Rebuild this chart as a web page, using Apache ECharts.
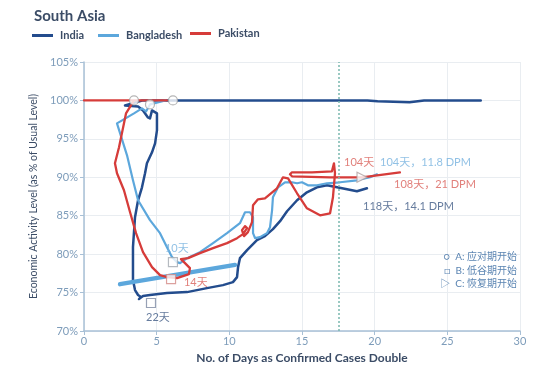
<!DOCTYPE html>
<html><head><meta charset="utf-8">
<script src="https://cdn.jsdelivr.net/npm/echarts@6/dist/echarts.min.js"></script>
<style>html,body{margin:0;padding:0;background:#fff}#c{width:550px;height:385px}</style>
</head><body><div id="c"></div>
<script>
// ---- data (x: days for confirmed cases to double, y: economic activity % of usual) ----
const xTicks = [0, 5, 10, 15, 20, 25, 30];
const yTicks = [70, 75, 80, 85, 90, 95, 100, 105];
const seriesNames = ['India', 'Bangladesh', 'Pakistan'];

const india = [
  [27.3,100],[23.4,100],[22.4,99.75],[20.2,99.9],[19.5,100],[6.12,100],[4.0,100],
  [2.82,99.35],[3.72,99.22],[4.06,98.7],[4.40,97.79],[4.54,97.66],[4.68,98.7],[4.75,98.96],
  [5.02,98.31],[5.02,96.1],[4.89,94.42],[4.68,93.25],[4.33,91.82],[4.20,90.52],[3.99,88.7],
  [3.72,87.01],[3.51,84.81],[3.37,80.91],[3.37,76.62],[3.51,75.32],[3.72,74.68],[3.92,74.42],
  [3.78,74.16],[4.06,74.55],[4.54,74.68],[5.71,74.94],[7.09,75.06],[8.46,75.58],[9.56,75.97],
  [10.25,76.36],[10.53,77.01],[10.60,78.31],[10.73,79.48],[11.22,80.52],[11.90,81.82],
  [12.45,82.34],[13.00,83.25],[13.49,84.29],[13.97,85.58],[14.66,87.01],[15.34,88.05],
  [16.03,88.7],[16.72,88.96],[17.41,88.7],[18.10,88.44],[18.78,88.18],[19.47,88.57]
];
const bangladesh = [
  [5.6,100],[4.54,99.48],[4.27,98.57],[3.99,98.96],[3.44,98.31],[2.27,97.01],[2.96,92.86],
  [3.37,89.61],[3.72,87.01],[4.54,84.42],[5.23,82.73],[5.71,80.91],[6.06,79.61],[6.40,78.96],
  [6.61,78.83],[7.09,79.48],[7.98,80.26],[8.88,81.43],[9.84,82.73],[10.73,84.03],[11.08,85.45],
  [11.42,85.45],[11.63,84.81],[11.63,82.73],[11.77,82.08],[12.11,82.21],[12.59,82.73],
  [12.80,83.51],[12.94,85.71],[13.00,87.4],[13.35,88.7],[13.83,89.35],[14.31,89.35],
  [14.66,89.22],[15.0,89.35],[15.41,88.96],[16.03,88.96],[16.72,89.22],[17.62,89.35],
  [18.78,89.61],[19.68,90.0],[20.16,90.39]
];
const bangladeshSegment = [[2.48,76.1],[10.39,78.6]];
const pakistan = [
  [0,100],[5.7,100],[3.44,100],[2.89,98.31],[2.41,93.9],[2.13,91.82],[2.27,90.52],[2.75,88.31],
  [3.17,85.45],[3.58,82.73],[4.06,80.26],[4.68,78.31],[5.23,77.27],[5.71,77.01],[6.40,76.88],
  [7.22,77.4],[7.29,78.18],[6.88,78.96],[6.67,79.35],[7.16,79.48],[7.98,80.13],[8.88,80.78],
  [9.84,81.43],[10.53,82.08],[10.94,82.6],[11.22,83.38],[11.08,83.64],[10.87,83.12],
  [11.01,82.34],[11.28,82.86],[11.56,84.16],[11.63,86.36],[11.97,87.14],[12.45,87.27],
  [13.28,88.57],[13.69,90.0],[14.04,89.87],[14.66,87.92],[15.34,85.97],[16.24,85.06],
  [16.93,85.32],[17.13,87.40],[17.27,90.52],[17.20,91.82],[17.06,90.78],[15.69,90.65],
  [14.31,90.65],[14.17,90.39],[14.31,90.13],[16.93,90.0],[19.13,90.0],[21.74,90.65]
];
// phase markers: India, Bangladesh, Pakistan
const pointA = [[6.12,100],[4.54,99.48],[3.44,100]];
const pointB = [[4.61,73.64],[6.12,78.96],[5.99,76.75]];
const pointC = [[19.13,90.0]];
const refLineX = 17.5;
// annotations: [x, y, text, series index]
const annotations = [
  [5.57,80.78,'10天',1],
  [6.88,76.36,'14天',2],
  [4.27,71.7,'22天',0],
  [17.89,91.95,'104天',2],
  [20.37,91.95,'104天，11.8 DPM',1],
  [21.33,89.09,'108天，21 DPM',2],
  [19.2,86.23,'118天，14.1 DPM',0]
];
const phaseLegend = ['○  A: 应对期开始', '□  B: 低谷期开始', '▷  C: 恢复期开始'];

// ---- styles ----
const FONT = "Lato, 'Noto Sans CJK SC', sans-serif";
const colors = ['#234c8d', '#5ca7dc', '#d63c3a'];
const textColors = ['#3f5a85', '#76b2de', '#d9605a'];
const squareBorders = ['#7d8aa3', '#a3a9b0', '#d38a86'];
const AXIS = '#a8c0d6';
const LABEL = '#7d9cba';
const DARK = '#3b4c66';

const chart = echarts.init(document.getElementById('c'));

const lineSeries = (name, data, i, w) => ({
  name, type: 'line', data, showSymbol: false, symbol: 'none', smooth: false,
  lineStyle: { color: colors[i], width: w, cap: 'round', join: 'round' },
  itemStyle: { color: colors[i] }, z: 2 + i, animation: false
});

const annoSeries = annotations.map(a => ({
  type: 'scatter', data: [[a[0], a[1]]], symbolSize: 0, silent: true, z: 10, animation: false,
  label: { show: true, position: 'right', distance: 0, formatter: a[2],
    color: textColors[a[3]], fontSize: 11, fontFamily: FONT }
}));

const option = {
  animation: false,
  backgroundColor: '#fff',
  title: { text: 'South Asia', left: 29, top: 4,
    textStyle: { fontFamily: FONT, fontSize: 15, fontWeight: 'bold', color: DARK } },
  legend: [0, 1, 2].map(i => ({
    data: [seriesNames[i]], left: [32, 98, 190][i], top: [30, 30, 28][i], padding: 0,
    icon: 'rect', itemWidth: 21, itemHeight: 3, itemGap: 0,
    textStyle: { fontFamily: FONT, fontSize: 11, fontWeight: 'bold', color: DARK, padding: [0,0,0,2] }
  })),
  grid: { left: 84, right: 30, top: 62, bottom: 54 },
  xAxis: {
    type: 'value', min: xTicks[0], max: xTicks[xTicks.length - 1], interval: 5,
    name: 'No. of Days as Confirmed Cases Double', nameLocation: 'middle', nameGap: 20,
    nameTextStyle: { fontFamily: FONT, fontSize: 12, fontWeight: 'bold', color: DARK },
    axisLine: { show: true, onZero: false, lineStyle: { color: AXIS, width: 1.5 } },
    axisTick: { show: true, length: 4, lineStyle: { color: AXIS } },
    axisLabel: { color: LABEL, fontFamily: FONT, fontSize: 11, margin: 5 },
    splitLine: { show: true, lineStyle: { color: '#e9edf1' } }
  },
  yAxis: {
    type: 'value', min: yTicks[0], max: yTicks[yTicks.length - 1], interval: 5,
    name: 'Economic Activity Level (as % of Usual Level)', nameLocation: 'middle', nameGap: 44,
    nameTextStyle: { fontFamily: FONT, fontSize: 10.5, color: DARK },
    axisLine: { show: true, lineStyle: { color: AXIS, width: 1.5 } },
    axisTick: { show: true, length: 4, lineStyle: { color: AXIS } },
    axisLabel: { color: LABEL, fontFamily: FONT, fontSize: 11, margin: 6, formatter: '{value}%' },
    splitLine: { show: true, lineStyle: { color: '#e9edf1' } }
  },
  series: [
    Object.assign(lineSeries('India', india, 0, 2.5), {
      markLine: { silent: true, symbol: 'none', label: { show: false },
        lineStyle: { color: '#7ab8ae', type: [2, 2], width: 1.5 },
        data: [{ xAxis: refLineX }] }
    }),
    lineSeries('Bangladesh', bangladesh, 1, 2.2),
    Object.assign(lineSeries('Bangladesh segment', bangladeshSegment, 1, 4.5), { z: 3 }),
    lineSeries('Pakistan', pakistan, 2, 2.3),
    { type: 'scatter', data: pointA, symbol: 'circle', symbolSize: 9, z: 8, silent: true,
      itemStyle: { color: '#fff', borderColor: '#a3a3a3', borderWidth: 1.2 } },
    { type: 'scatter', data: pointB.map((p, i) => ({ value: p,
        itemStyle: { color: '#fff', borderColor: squareBorders[i], borderWidth: 1.2 } })),
      symbol: 'rect', symbolSize: 9, z: 8, silent: true },
    { type: 'scatter', data: pointC, symbol: 'triangle', symbolRotate: -90, symbolSize: 10, z: 8, silent: true,
      itemStyle: { color: '#fff', borderColor: '#b0a0a0', borderWidth: 1.2 } },
    ...annoSeries
  ],
  graphic: phaseLegend.map((t, i) => ({
    type: 'text', right: 33, top: 252 + i * 13.5, z: 20,
    style: { text: t, fill: '#5a84b2', font: "10px " + FONT, textAlign: 'right' }
  }))
};
chart.setOption(option);
</script></body></html>
